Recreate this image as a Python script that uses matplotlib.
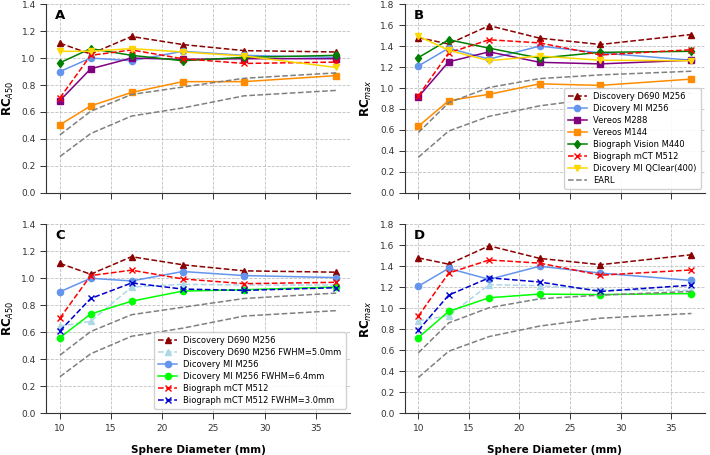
import matplotlib.pyplot as plt
import numpy as np

diam = [10, 13, 17, 22, 28, 37]

# RC A50
a50_d690 = [1.11, 1.03, 1.16, 1.10, 1.055, 1.045]
a50_mi = [0.90, 1.00, 0.98, 1.05, 1.02, 1.005]
a50_vereos288 = [0.685, 0.92, 1.00, 0.99, 0.995, 0.995]
a50_vereos144 = [0.505, 0.645, 0.745, 0.825, 0.825, 0.87]
a50_vision = [0.965, 1.07, 1.02, 0.98, 1.005, 1.02]
a50_mct = [0.705, 1.02, 1.06, 0.995, 0.96, 0.97]
a50_qclear = [1.05, 1.05, 1.07, 1.045, 1.015, 0.93]
a50_d690_f5 = [0.645, 0.68, 0.935, 0.955, 0.95, 0.95]
a50_mi_f64 = [0.56, 0.735, 0.83, 0.905, 0.915, 0.935]
a50_mct_f3 = [0.61, 0.85, 0.965, 0.92, 0.91, 0.93]
a50_earl_hi = [0.43, 0.605, 0.73, 0.785, 0.85, 0.89]
a50_earl_lo = [0.27, 0.44, 0.57, 0.63, 0.72, 0.76]

# RC max
max_d690 = [1.48, 1.42, 1.595, 1.475, 1.415, 1.51]
max_mi = [1.21, 1.38, 1.275, 1.40, 1.335, 1.265]
max_vereos288 = [0.915, 1.25, 1.345, 1.245, 1.23, 1.265]
max_vereos144 = [0.635, 0.88, 0.94, 1.04, 1.025, 1.085]
max_vision = [1.29, 1.46, 1.38, 1.285, 1.34, 1.35]
max_mct = [0.925, 1.335, 1.46, 1.43, 1.315, 1.365]
max_qclear = [1.495, 1.36, 1.26, 1.305, 1.265, 1.26]
max_d690_f5 = [0.88, 0.93, 1.225, 1.215, 1.175, 1.17]
max_mi_f64 = [0.72, 0.97, 1.10, 1.135, 1.13, 1.14]
max_mct_f3 = [0.79, 1.125, 1.29, 1.25, 1.16, 1.22]
max_earl_hi = [0.575, 0.86, 1.005, 1.09, 1.125, 1.16]
max_earl_lo = [0.34, 0.59, 0.73, 0.83, 0.905, 0.95]

plt.rcParams['font.family'] = 'DejaVu Sans'

fig = plt.figure(figsize=(7.1, 4.55), dpi=100)
axA = fig.add_axes([0.065, 0.576, 0.428, 0.415])
axB = fig.add_axes([0.570, 0.576, 0.423, 0.415])
axC = fig.add_axes([0.065, 0.092, 0.428, 0.415])
axD = fig.add_axes([0.570, 0.092, 0.423, 0.415])

lw = 1.1
ms = 4.5


def earl(ax, hi, lo, label=None):
    ax.plot(diam, hi, '--', color='gray', lw=lw, label=label)
    ax.plot(diam, lo, '--', color='gray', lw=lw)


def top_panel(ax, d690, mi, v288, v144, vision, mct, qclear, hi, lo):
    ax.plot(diam, d690, '--^', color='darkred', lw=lw, ms=ms, label='Discovery D690 M256')
    ax.plot(diam, mi, '-o', color='cornflowerblue', lw=lw, ms=ms, label='Dicovery MI M256')
    ax.plot(diam, v288, '-s', color='purple', lw=lw, ms=ms, label='Vereos M288')
    ax.plot(diam, v144, '-s', color='darkorange', lw=lw, ms=ms, label='Vereos M144')
    ax.plot(diam, vision, '-d', color='green', lw=lw, ms=ms, label='Biograph Vision M440')
    ax.plot(diam, mct, '--x', color='red', lw=lw, ms=ms, label='Biograph mCT M512')
    ax.plot(diam, qclear, '-v', color='gold', lw=lw, ms=ms, label='Dicovery MI QClear(400)')
    earl(ax, hi, lo, 'EARL')


def bottom_panel(ax, d690, d690f, mi, mif, mct, mctf, hi, lo):
    ax.plot(diam, d690, '--^', color='darkred', lw=lw, ms=ms, label='Discovery D690 M256')
    ax.plot(diam, d690f, '--^', color='lightblue', lw=lw, ms=ms, label='Discovery D690 M256 FWHM=5.0mm')
    ax.plot(diam, mi, '-o', color='cornflowerblue', lw=lw, ms=ms, label='Dicovery MI M256')
    ax.plot(diam, mif, '-o', color='lime', lw=lw, ms=ms, label='Dicovery MI M256 FWHM=6.4mm')
    ax.plot(diam, mct, '--x', color='red', lw=lw, ms=ms, label='Biograph mCT M512')
    ax.plot(diam, mctf, '--x', color='mediumblue', lw=lw, ms=ms, label='Biograph mCT M512 FWHM=3.0mm')
    earl(ax, hi, lo)


top_panel(axA, a50_d690, a50_mi, a50_vereos288, a50_vereos144, a50_vision, a50_mct, a50_qclear, a50_earl_hi, a50_earl_lo)
top_panel(axB, max_d690, max_mi, max_vereos288, max_vereos144, max_vision, max_mct, max_qclear, max_earl_hi, max_earl_lo)
bottom_panel(axC, a50_d690, a50_d690_f5, a50_mi, a50_mi_f64, a50_mct, a50_mct_f3, a50_earl_hi, a50_earl_lo)
bottom_panel(axD, max_d690, max_d690_f5, max_mi, max_mi_f64, max_mct, max_mct_f3, max_earl_hi, max_earl_lo)

for ax, letter in zip([axA, axB, axC, axD], 'ABCD'):
    ax.spines['top'].set_visible(False)
    ax.spines['right'].set_visible(False)
    for s in ['left', 'bottom']:
        ax.spines[s].set_color('#333333')
    ax.grid(True, linestyle='--', color='#c0c0c0', lw=0.6)
    ax.set_axisbelow(True)
    ax.tick_params(labelsize=6.5, colors='#333333', length=4, width=0.7)
    ax.set_xticks([10, 15, 20, 25, 30, 35])
    ax.text(0.03, 0.975, letter, transform=ax.transAxes, fontsize=9.5, fontweight='bold', va='top')

for ax in [axA, axC]:
    ax.set_ylim(0, 1.4)
    ax.set_yticks(np.arange(0, 1.41, 0.2))
    ax.set_ylabel(r'$\mathbf{RC}_{\mathit{A50}}$', fontsize=8.5, labelpad=4)
for ax in [axB, axD]:
    ax.set_ylim(0, 1.8)
    ax.set_yticks(np.arange(0, 1.81, 0.2))
    ax.set_ylabel(r'$\mathbf{RC}_{\mathit{max}}$', fontsize=8.5, labelpad=4)
for ax in [axA, axB]:
    ax.set_xticklabels([])
for ax in [axC, axD]:
    ax.set_xlabel('Sphere Diameter (mm)', fontsize=7.5, fontweight='bold', labelpad=9)

axB.legend(loc='lower right', fontsize=6, framealpha=0.9, borderpad=0.5, labelspacing=0.35, handlelength=2.2)
axC.legend(loc='lower right', fontsize=6, framealpha=0.9, borderpad=0.5, labelspacing=0.35, handlelength=2.2)

fig.savefig('out.png', dpi=100)
